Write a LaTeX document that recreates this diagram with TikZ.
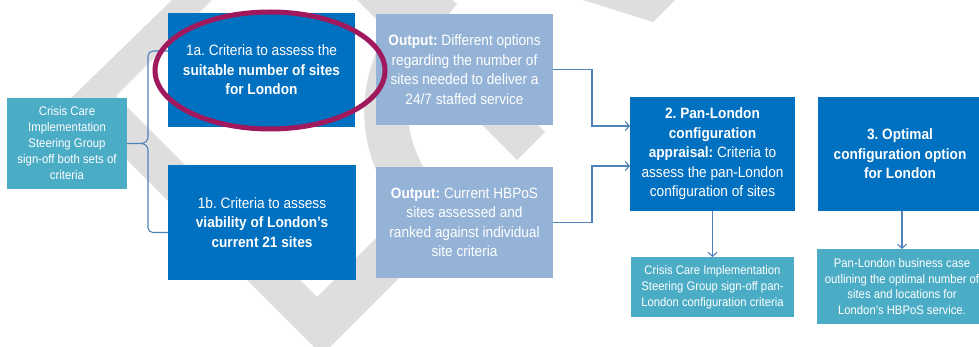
\documentclass[tikz,border=0pt]{standalone}
\usepackage{fontspec}
\setmainfont{Liberation Sans}[FakeStretch=0.91]
\usetikzlibrary{arrows.meta}
\definecolor{dblue}{HTML}{0070C0}
\definecolor{tealc}{HTML}{4BACC6}
\definecolor{lblue}{HTML}{95B3D7}
\definecolor{wm}{HTML}{DEDEDE}
\definecolor{connc}{HTML}{4F81BD}
\definecolor{plum}{HTML}{A0195D}
\frenchspacing
\begin{document}
\begin{tikzpicture}[x=1pt,y=-1pt,
  bx/.style={fill=#1, text=white, align=center, inner sep=0pt, outer sep=0pt},
  big/.style={font=\fontsize{15}{19.5}\selectfont},
  small/.style={font=\fontsize{12.4}{15.8}\selectfont},
  conn/.style={draw=connc, line width=1.1pt, -{Straight Barb[length=4pt,width=9pt]}},
  brace/.style={draw=connc, line width=1.1pt},
]
\useasboundingbox (0,0) rectangle (979,347);
\clip (0,0) rectangle (979,347);
\fill[white] (0,0) rectangle (979,347);
% watermark
\fill[wm] (172,0) -- (212,0) -- (116,96) -- (317,297) -- (424,190) -- (455.5,221.5) -- (322,355) -- (68,101) -- cycle;
\fill[wm] (357,0) -- (413,0) -- (545,132) -- (517,160) -- cycle;
\draw[wm, line width=44pt] (440,-10) .. controls (365,80) and (375,150) .. (430,215);
\fill[wm] (583,0) -- (675,0) -- (653,22) -- cycle;
% boxes
\node[bx=tealc, font=\fontsize{12.5}{16}\selectfont, minimum width=120pt, minimum height=91pt] (crisis) at (67,143.5)
  {Crisis Care\\Implementation\\Steering Group\\sign-off both sets of\\criteria};
\node[bx=dblue, big, minimum width=187pt, minimum height=114pt] (b1a) at (261.5,70)
  {1a. Criteria to assess the\\\textbf{suitable number of sites}\\\textbf{for London}};
\node[bx=dblue, big, minimum width=188pt, minimum height=115pt] (b1b) at (262,222.5)
  {1b. Criteria to assess\\\textbf{viability of London’s}\\\textbf{current 21 sites}};
\node[bx=lblue, big, minimum width=177pt, minimum height=111pt] (out1) at (464.5,69.5)
  {\textbf{Output:} Different options\\regarding the number of\\sites needed to deliver a\\24/7 staffed service};
\node[bx=lblue, big, minimum width=177pt, minimum height=111pt] (out2) at (464.5,222.5)
  {\textbf{Output:} Current HBPoS\\sites assessed and\\ranked against individual\\site criteria};
\node[bx=dblue, big, minimum width=165pt, minimum height=114pt] (b2) at (712.5,154)
  {\textbf{2. Pan-London}\\\textbf{configuration}\\\textbf{appraisal:} Criteria to\\assess the pan-London\\configuration of sites};
\node[bx=dblue, big, minimum width=164pt, minimum height=114pt] (b3) at (900,154)
  {\textbf{3. Optimal}\\\textbf{configuration option}\\\textbf{for London}};
\node[bx=tealc, small, minimum width=163pt, minimum height=60pt] (t2) at (712.5,287)
  {Crisis Care Implementation\\Steering Group sign-off pan-\\London configuration criteria};
\node[bx=tealc, small, minimum width=171pt, minimum height=75pt] (t3) at (902,286.5)
  {Pan-London business case\\outlining the optimal number of\\sites and locations for\\London’s HBPoS service.};
% connectors
\draw[conn] (out1.east) -- ++(39,0) |- ([yshift=28pt]b2.west);
\draw[conn] (out2.east) -- ++(39,0) |- ([yshift=-12pt]b2.west);
\draw[conn] (b2.south) -- (t2.north);
\draw[conn] (t3.north |- b3.south) -- (t3.north);
\coordinate (bt) at (141,143.5);
\draw[brace] (crisis.east) -- (bt) to[out=0,in=-90] (148,137) -- (148,56) to[out=90,in=180] (153,51) -- ([yshift=19pt]b1a.west);
\draw[brace] (bt) to[out=0,in=90] (148,150) -- (148,228) to[out=-90,in=180] (153,232.5) -- ([yshift=-10pt]b1b.west);
% highlight ellipse
\draw[plum, line width=5pt] (270,70.5) ellipse [x radius=115pt, y radius=58.5pt];
\end{tikzpicture}
\end{document}
